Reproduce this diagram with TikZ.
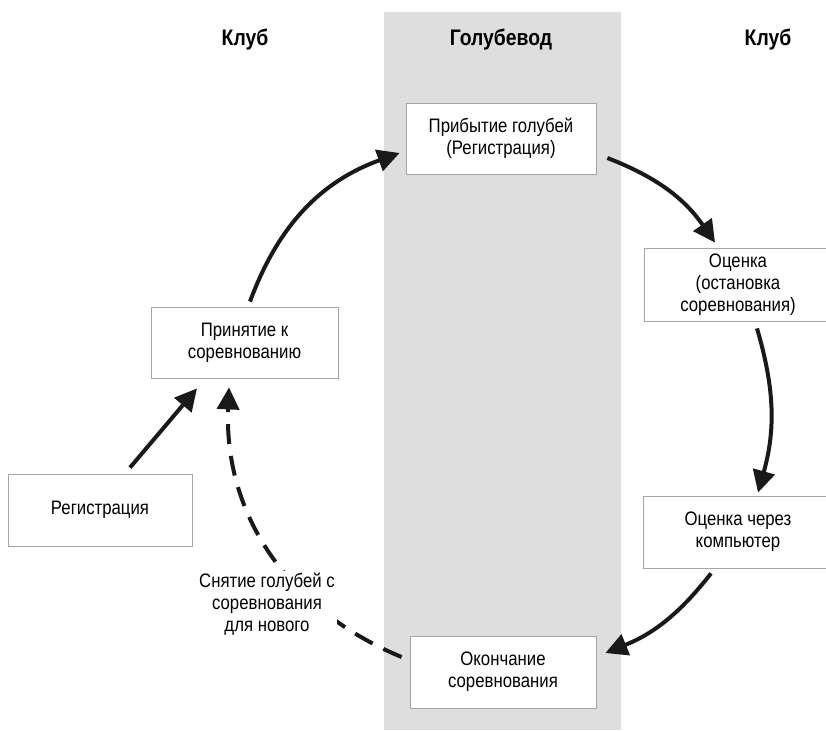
\documentclass[tikz,border=0pt]{standalone}
\usepackage{fontspec}
\setmainfont{Liberation Sans}[FakeStretch=0.86]
\usetikzlibrary{arrows.meta}
\definecolor{polosa}{RGB}{222,222,222}
\definecolor{ramka}{RGB}{165,165,165}
\begin{document}
\begin{tikzpicture}[x=1pt, y=1pt,
    blok/.style={draw=ramka, fill=white, line width=0.8pt, minimum width=188pt, minimum height=72pt, align=center, font=\fontsize{19.5}{22}\selectfont},
    zag/.style={font=\fontsize{22.5}{25}\selectfont\bfseries},
    strelka/.style={line width=4pt, black!90, -{Triangle[length=22pt,width=22pt]}}]
    \useasboundingbox (0,0) rectangle (826,-730);
    % Серая полоса
    \fill[polosa] (384,-12) rectangle (621,-730);

    % Заголовки
    \node[zag] (klubL) at (245,-40) {Клуб};
    \node[zag] (golub) at (501,-40) {Голубевод};
    \node[zag] (klubR) at (768,-40) {Клуб};

    % Блоки
    \node[blok, minimum width=184pt] (reg) at (100,-510) {Регистрация};
    \node[blok, minimum width=187pt, minimum height=71pt] (prinyat) at (244.5,-342.5) {Принятие к\\соревнованию};
    \node[blok, minimum width=190pt, minimum height=71pt] (pribyt) at (501,-138.5) {Прибытие голубей\\(Регистрация)};
    \node[blok, minimum height=73pt] (ocenka) at (738,-284.5) {Оценка\\(остановка\\соревнования)};
    \node[blok, minimum width=190pt] (komp) at (738,-532) {Оценка через\\компьютер};
    \node[blok, minimum width=186pt] (konec) at (503,-672) {Окончание\\соревнования};

    % Стрелки
    \draw[strelka] ([xshift=30pt,yshift=6pt]reg.north) -- ([xshift=-47.5pt,yshift=-10pt]prinyat.south);
    \draw[strelka] ([xshift=5.5pt,yshift=5pt]prinyat.north) to[bend left=25] ([xshift=-6pt,yshift=-14.5pt]pribyt.west);
    \draw[strelka] ([xshift=11pt,yshift=-19.5pt]pribyt.east) to[bend left=17] ([xshift=-23pt,yshift=5pt]ocenka.north);
    \draw[strelka] ([xshift=19pt,yshift=-7pt]ocenka.south) to[bend left=16] ([xshift=20pt,yshift=3pt]komp.north);
    \draw[strelka] ([xshift=-27pt,yshift=-5pt]komp.south) to[bend left=15] ([xshift=9pt,yshift=19pt]konec.east);
    \draw[strelka, dash pattern=on 20pt off 12pt] ([xshift=-8pt,yshift=15pt]konec.west) to[bend left=35] ([xshift=-15.5pt,yshift=-9pt]prinyat.south);

    % Подпись поверх пунктира
    \node[fill=white, inner sep=2pt, align=center, font=\fontsize{19.5}{22}\selectfont] (snyatie) at (267,-604) {Снятие голубей с\\соревнования\\для нового};
\end{tikzpicture}
\end{document}
